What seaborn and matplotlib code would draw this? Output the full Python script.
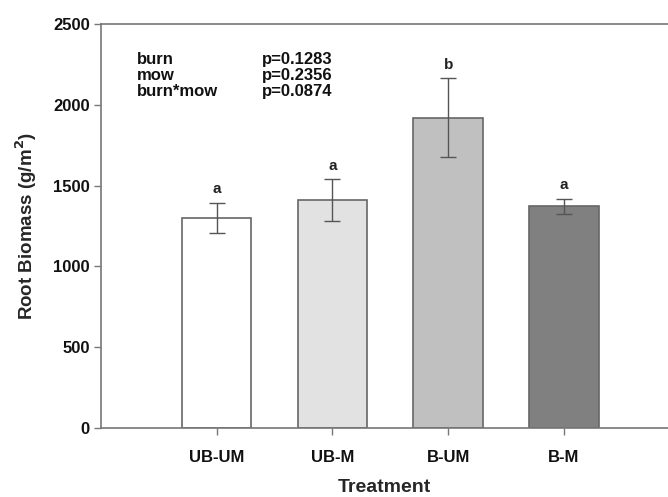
import matplotlib
matplotlib.use("Agg")
import matplotlib.pyplot as plt
import seaborn as sns
import pandas as pd

treatments = ["UB-UM", "UB-M", "B-UM", "B-M"]
means = [1300, 1410, 1920, 1372]
errors = [93, 130, 245, 47]
letters = ["a", "a", "b", "a"]
colors = ["#ffffff", "#e2e2e2", "#c0c0c0", "#808080"]
stat_terms = ["burn", "mow", "burn*mow"]
stat_pvals = ["p=0.1283", "p=0.2356", "p=0.0874"]

sns.set_theme(style="white")
plt.rcParams["font.family"] = ["Liberation Sans", "DejaVu Sans"]
plt.rcParams["font.weight"] = "bold"

df = pd.DataFrame({"Treatment": treatments, "Biomass": means})

fig = plt.figure(figsize=(6.68, 4.97), dpi=100)
ax = fig.add_axes([0.1512, 0.1388, 0.8488, 0.8129])

sns.barplot(data=df, x="Treatment", y="Biomass", hue="Treatment",
            palette=colors, width=0.6, edgecolor="#666666", linewidth=1.2,
            errorbar=None, legend=False, ax=ax)
ax.errorbar(range(len(treatments)), means, yerr=errors, fmt="none",
            ecolor="#555555", elinewidth=1.0, capsize=6, capthick=1.0)

for i, (m, e, l) in enumerate(zip(means, errors, letters)):
    ax.text(i, m + e + 40, l, ha="center", va="bottom", fontsize=11,
            fontweight="bold", color="#222222")

y0 = 2280
for j, (t, p) in enumerate(zip(stat_terms, stat_pvals)):
    ax.text(-0.69, y0 - j * 100, t, ha="left", va="center", fontsize=12,
            fontweight="bold", color="#111111")
    ax.text(0.39, y0 - j * 100, p, ha="left", va="center", fontsize=12,
            fontweight="bold", color="#111111")

ax.set_xlim(-1.0, 3.9)
ax.set_ylim(0, 2500)
ax.set_yticks([0, 500, 1000, 1500, 2000, 2500])
ax.set_xlabel("Treatment", fontsize=14, fontweight="bold", labelpad=10)
ax.set_ylabel("Root Biomass (g/m$^\\mathbf{2}$)", fontsize=13.5, fontweight="bold", labelpad=10)
for lab in ax.get_xticklabels() + ax.get_yticklabels():
    lab.set_fontweight("bold")
    lab.set_fontsize(12)
    lab.set_color("#111111")

for side in ["left", "bottom", "top"]:
    ax.spines[side].set_color("#777777")
    ax.spines[side].set_linewidth(1.2)
ax.spines["right"].set_visible(False)
ax.tick_params(axis="both", which="both", direction="out", length=5,
               color="#777777", width=1.0, bottom=True, left=True, pad=3)
ax.tick_params(axis="x", pad=11)

fig.savefig("out.png", dpi=100)
